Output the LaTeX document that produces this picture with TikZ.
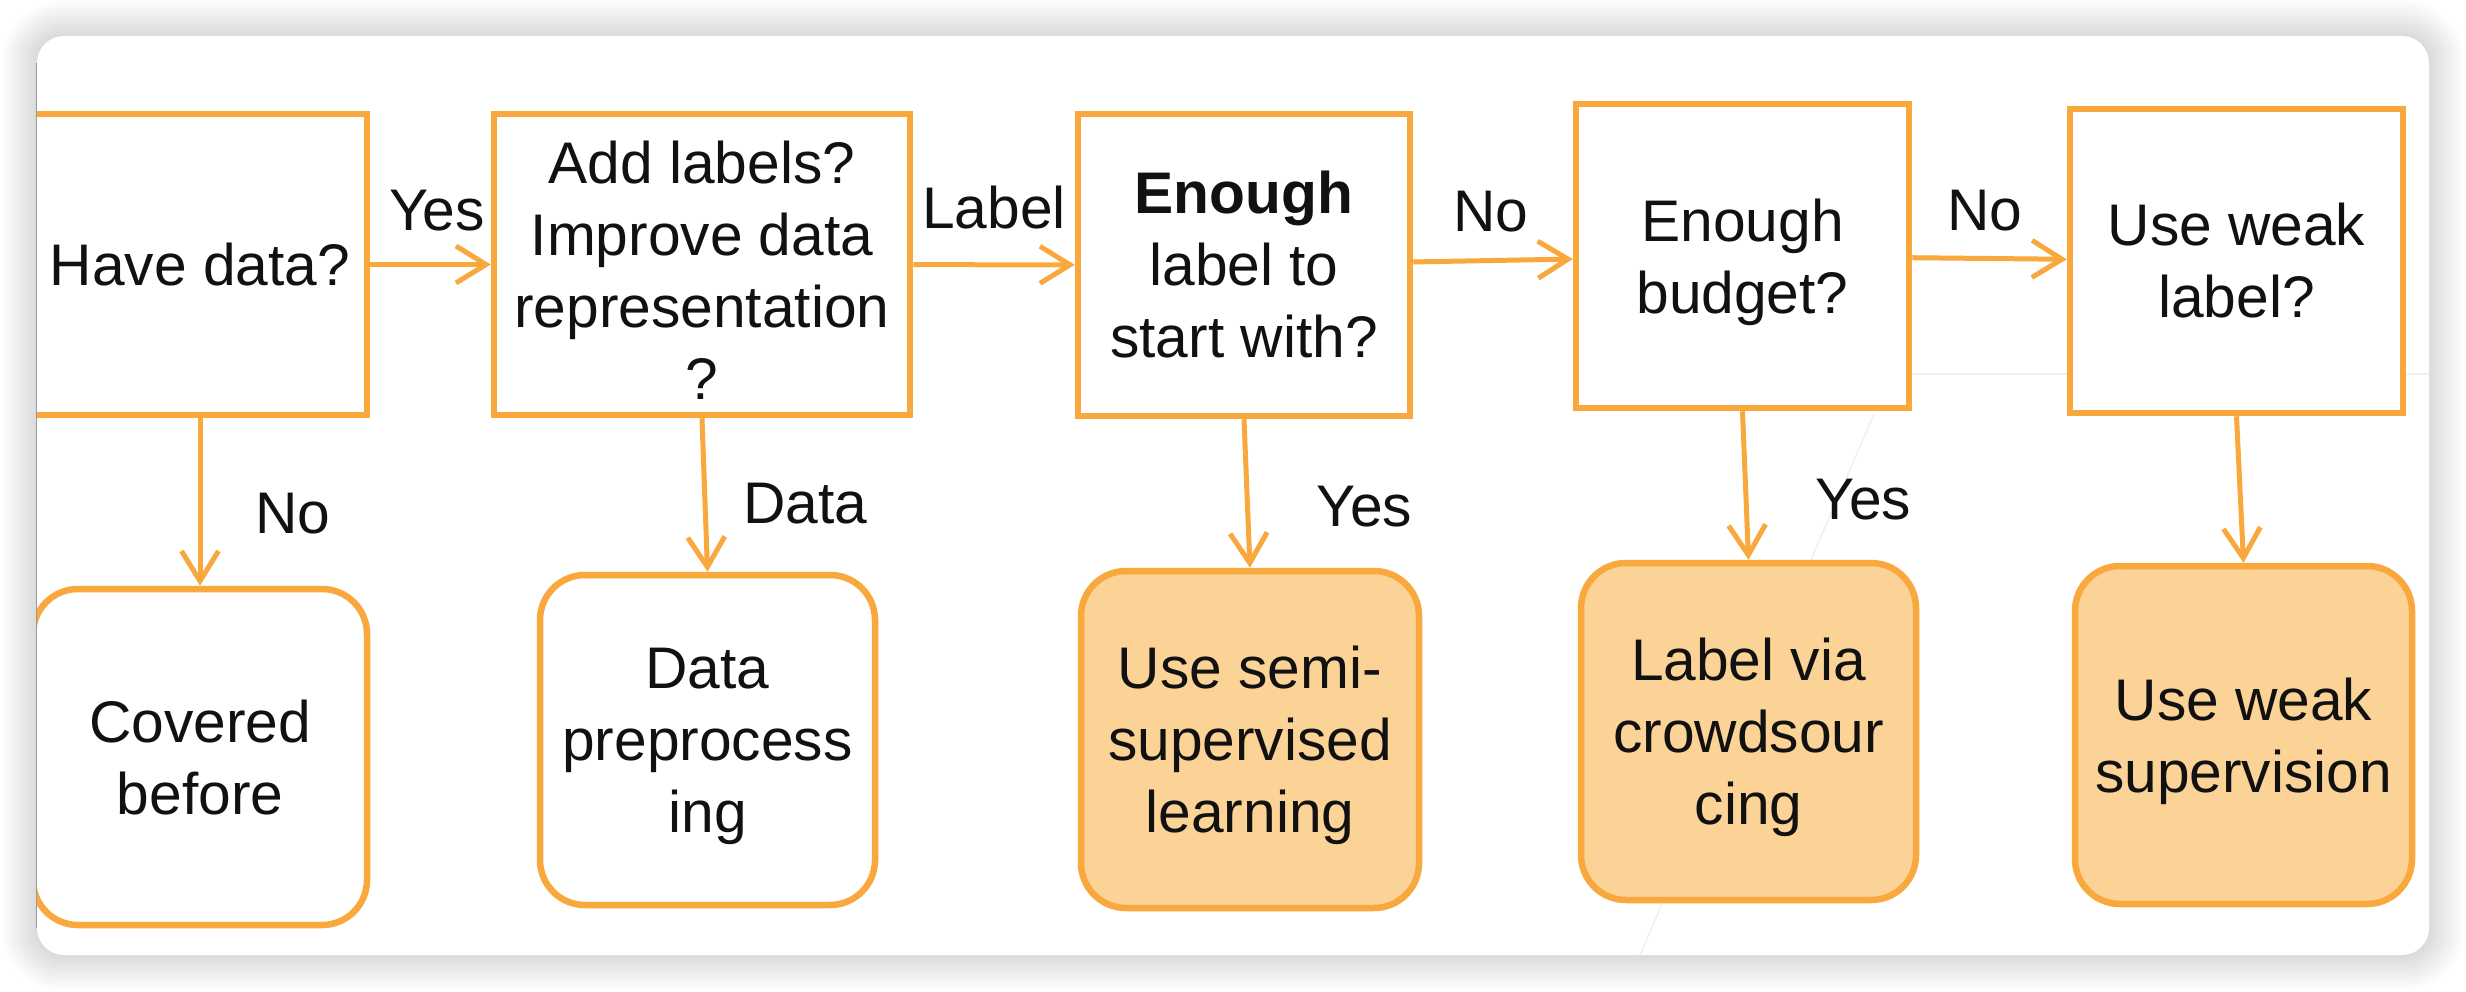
\documentclass[tikz,border=0pt]{standalone}
\usepackage{fontspec}
\setmainfont{Liberation Sans}
\usetikzlibrary{arrows.meta}
\definecolor{orng}{HTML}{F8A83C}
\definecolor{pfill}{HTML}{FBD396}
\definecolor{txt}{HTML}{111111}
\begin{document}
\begin{tikzpicture}[x=1pt,y=-1pt,
  every node/.style={font=\fontsize{58.7}{72}\selectfont, text=txt},
  qbox/.style={draw=orng, line width=6.5pt, fill=white, rectangle, align=center, inner sep=0pt},
  rbox/.style={draw=orng, line width=6.5pt, fill=white, rectangle, rounded corners=45pt, align=center, inner sep=0pt, text depth=0pt},
  abox/.style={rbox, fill=pfill},
  conn/.style={draw=orng, line width=5pt, -{Straight Barb[length=30pt,width=37pt]}},
  lbl/.style={inner sep=0pt, anchor=base},
  lblw/.style={inner sep=0pt, anchor=base west}
]
\useasboundingbox (0,0) rectangle (2466,992);
\fill[white] (0,0) rectangle (2466,992);
% shadow
\foreach \i in {1,...,18} {
  \pgfmathsetmacro\rr{27+2*\i}
  \pgfmathsetmacro\dd{2*\i}
  \fill[black, opacity=0.007, rounded corners=\rr pt] ({37-\dd},{36-\dd}) rectangle ({2429+\dd},{955+\dd});
}
% card
\fill[white, rounded corners=27pt] (37,36) rectangle (2429,955);
% faint background lines
\draw[black!6, line width=1.5pt] (1912,374) -- (2429,374);
\draw[black!6, line width=1.5pt] (1874,414) -- (1640,955);
\begin{scope}
\clip[rounded corners=27pt] (37,36) rectangle (2429,955);
% decision boxes
\node[qbox, minimum width=334pt, minimum height=301pt] (b1) at (200,264.5) {Have data?};
\node[qbox, minimum width=416pt, minimum height=301pt, text height=269pt] (b2) at (702,264.5) {Add labels?\\Improve data\\representation\\?};
\node[qbox, minimum width=332pt, minimum height=302pt] (b3) at (1244,265) {\textbf{Enough}\\label to\\start with?};
\node[qbox, minimum width=333pt, minimum height=304pt, text depth=0pt] (b4) at (1742.5,256) {Enough\\budget?};
\node[qbox, minimum width=333pt, minimum height=304pt] (b5) at (2236.5,261) {Use weak\\label?};
% outcome boxes
\node[rbox, minimum width=334pt, minimum height=336pt] (r1) at (200,757) {Covered\\before};
\node[rbox, minimum width=335pt, minimum height=330pt] (r2) at (707.5,740) {Data\\preprocess\\ing};
\node[abox, minimum width=338pt, minimum height=337pt] (r3) at (1250,739.5) {Use semi-\\supervised\\learning};
\node[abox, minimum width=335pt, minimum height=337pt] (r4) at (1748.5,731.5) {Label via\\crowdsour\\cing};
\node[abox, minimum width=337pt, minimum height=338pt] (r5) at (2243.5,735) {Use weak\\supervision};
% connectors
\draw[conn] (b1) -- (b2);
\draw[conn] (b2) -- (b3);
\draw[conn] (b3) -- (b4);
\draw[conn] (b4) -- (b5);
\draw[conn] (b1.south) -- (r1.north);
\draw[conn] (b2.south) -- (r2.north);
\draw[conn] (b3.south) -- (r3.north);
\draw[conn] (b4.south) -- (r4.north);
\draw[conn] (b5.south) -- (r5.north);
% labels
\node[lbl] (l1) at (437,231) {Yes};
\node[lbl] (l2) at (994,229) {Label};
\node[lbl] (l3) at (1491,232) {No};
\node[lbl] (l4) at (1985,231) {No};
\node[lblw] (l5) at (255,533) {No};
\node[lblw] (l6) at (743,523) {Data};
\node[lblw] (l7) at (1316,526) {Yes};
\node[lblw] (l8) at (1815,519) {Yes};
\end{scope}
\draw[black!40, line width=1.5pt] (36.5,63) -- (36.5,928);
\end{tikzpicture}
\end{document}
